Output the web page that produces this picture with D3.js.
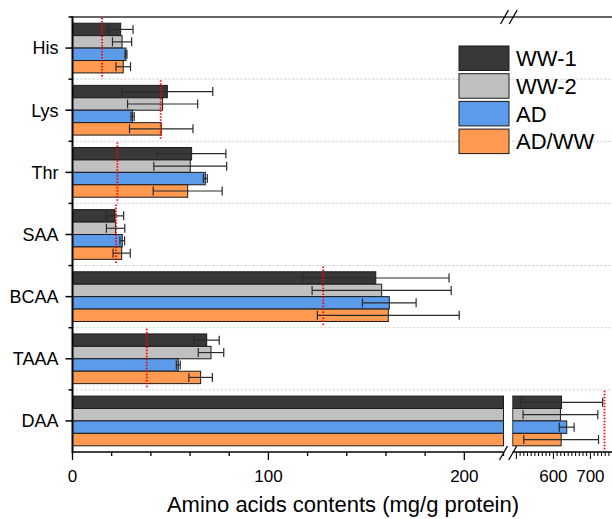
<!DOCTYPE html>
<html>
<head>
<meta charset="utf-8">
<script src="https://cdn.jsdelivr.net/npm/d3@7"></script>
<style>
  body { margin: 0; background: #fff; }
  text { font-family: "Liberation Sans", Arial, sans-serif; fill: #000; }
</style>
</head>
<body>
<svg width="612" height="519"></svg>
<script>
const categories = ["His", "Lys", "Thr", "SAA", "BCAA", "TAAA", "DAA"];
const seriesNames = ["WW-1", "WW-2", "AD", "AD/WW"];
const colors = ["#383838", "#c0c0c0", "#5b9bea", "#ff9a50"];

// mean values per series, in category order
const ww1 = [24.6, 48.4, 60.8, 21.7, 154.8, 68.5, 622];
const ww2 = [25.3, 46.0, 60.1, 22.0, 157.8, 70.7, 619];
const ad = [27.3, 30.7, 67.8, 25.4, 161.7, 54.0, 636];
const adww = [25.9, 45.3, 58.8, 25.1, 161.2, 65.4, 621];

// error (± sd)
const ww1Err = [6.3, 23.2, 17.5, 4.4, 37.4, 6.4, 111];
const ww2Err = [4.9, 17.9, 18.6, 4.7, 35.5, 6.5, 101];
const adErr = [0.5, 0.8, 1.0, 1.2, 13.7, 1.0, 20];
const adwwErr = [3.7, 16.2, 17.6, 4.4, 36.2, 6.0, 101];

// requirement reference lines (red dotted)
const refValues = [15.1, 45.0, 22.9, 22.2, 128.0, 37.9, 738];

const leftTicks = [0, 100, 200];
const rightTicks = [600, 700];

const svg = d3.select("svg");
const width = +svg.attr("width");
const height = +svg.attr("height");

const margin = { top: 17, left: 72.5, bottom: 452 };
const breakLeft = 503.5;
const breakRight = 512.7;

const xLeft = d3.scaleLinear().domain([0, 220]).range([margin.left, breakLeft]);
const xRight = d3.scaleLinear().domain([490, 760]).range([breakRight, 612.6]);
const xPos = (v) => (v <= 220 ? xLeft(v) : xRight(Math.max(v, 490)));

const yScale = d3
  .scaleBand()
  .domain(categories)
  .range([margin.top, margin.bottom])
  .paddingInner(0.2)
  .paddingOuter(0.1);
const step = yScale.step();

const ySub = d3
  .scaleBand()
  .domain(seriesNames)
  .range([0, yScale.bandwidth()]);

const values = [ww1, ww2, ad, adww];
const errors = [ww1Err, ww2Err, adErr, adwwErr];

const data = [];
categories.forEach((c, i) => {
  seriesNames.forEach((s, j) => {
    data.push({ cat: c, series: s, value: values[j][i], err: errors[j][i], color: colors[j] });
  });
});

// separators between categories
const sepY = d3.range(1, categories.length).map((k) => margin.top + k * step);
svg
  .append("g")
  .selectAll("line")
  .data(sepY)
  .join("line")
  .attr("x1", margin.left)
  .attr("x2", width)
  .attr("y1", (d) => d)
  .attr("y2", (d) => d)
  .attr("stroke", "#c8c8c8")
  .attr("stroke-width", 1)
  .attr("stroke-dasharray", "2,2");

// bars
const barG = svg.append("g");
data.forEach((d) => {
  const y = yScale(d.cat) + ySub(d.series);
  const h = ySub.bandwidth();
  if (d.value <= 220) {
    barG
      .append("rect")
      .attr("x", xLeft(0))
      .attr("y", y)
      .attr("width", xLeft(d.value) - xLeft(0))
      .attr("height", h)
      .attr("fill", d.color)
      .attr("stroke", "#1a1a1a")
      .attr("stroke-width", 1);
  } else {
    barG
      .append("rect")
      .attr("x", xLeft(0))
      .attr("y", y)
      .attr("width", xLeft(220) - xLeft(0))
      .attr("height", h)
      .attr("fill", d.color)
      .attr("stroke", "#1a1a1a")
      .attr("stroke-width", 1);
    barG
      .append("rect")
      .attr("x", xRight(490))
      .attr("y", y)
      .attr("width", xRight(d.value) - xRight(490))
      .attr("height", h)
      .attr("fill", d.color)
      .attr("stroke", "#1a1a1a")
      .attr("stroke-width", 1);
  }
});

// white gap for the break through the DAA bars
svg
  .append("rect")
  .attr("x", breakLeft + 0.5)
  .attr("y", yScale("DAA"))
  .attr("width", breakRight - breakLeft - 1)
  .attr("height", yScale.bandwidth())
  .attr("fill", "#fff");

// error bars
const errG = svg.append("g").attr("stroke", "#2a2a2a").attr("stroke-width", 1.2);
data.forEach((d) => {
  const cy = yScale(d.cat) + ySub(d.series) + ySub.bandwidth() / 2;
  const x1 = xPos(d.value - d.err);
  const x2 = xPos(d.value + d.err);
  errG.append("line").attr("x1", x1).attr("x2", x2).attr("y1", cy).attr("y2", cy);
  [x1, x2].forEach((x) => {
    errG.append("line").attr("x1", x).attr("x2", x).attr("y1", cy - 4.5).attr("y2", cy + 4.5);
  });
});

// reference lines
svg
  .append("g")
  .selectAll("line")
  .data(categories)
  .join("line")
  .attr("x1", (d, i) => xPos(refValues[i]))
  .attr("x2", (d, i) => xPos(refValues[i]))
  .attr("y1", (d) => yScale(d) - step * 0.1 + 1)
  .attr("y2", (d) => yScale(d) + yScale.bandwidth() + step * 0.1 - 1)
  .attr("stroke", "#ff0000")
  .attr("stroke-width", 1.8)
  .attr("stroke-dasharray", "1.5,1.5");

// left axis
const yAxisG = svg.append("g").attr("transform", `translate(${margin.left},0)`);
yAxisG
  .append("line")
  .attr("y1", margin.top - 1)
  .attr("y2", margin.bottom + 1)
  .attr("stroke", "#000")
  .attr("stroke-width", 2);
yAxisG
  .selectAll(".minor")
  .data(d3.range(0, categories.length).map((k) => margin.top + k * step))
  .join("line")
  .attr("class", "minor")
  .attr("x1", -4)
  .attr("x2", 0)
  .attr("y1", (d) => d)
  .attr("y2", (d) => d)
  .attr("stroke", "#000")
  .attr("stroke-width", 1.5);
yAxisG
  .selectAll(".major")
  .data(categories)
  .join("line")
  .attr("class", "major")
  .attr("x1", -7)
  .attr("x2", 0)
  .attr("y1", (d) => yScale(d) + yScale.bandwidth() / 2)
  .attr("y2", (d) => yScale(d) + yScale.bandwidth() / 2)
  .attr("stroke", "#000")
  .attr("stroke-width", 1.5);
yAxisG
  .selectAll("text")
  .data(categories)
  .join("text")
  .attr("x", -14)
  .attr("y", (d) => yScale(d) + yScale.bandwidth() / 2)
  .attr("dy", "0.35em")
  .attr("text-anchor", "end")
  .attr("font-size", 18)
  .text((d) => d);

// top frame line
svg
  .append("line")
  .attr("x1", margin.left)
  .attr("x2", width)
  .attr("y1", margin.top)
  .attr("y2", margin.top)
  .attr("stroke", "#333")
  .attr("stroke-width", 1.5);

// bottom axes
const axisY = margin.bottom;
const xAxisG = svg.append("g").attr("transform", `translate(0,${axisY})`);
xAxisG.append("line").attr("x1", margin.left).attr("x2", breakLeft).attr("stroke", "#000").attr("stroke-width", 1.5);
xAxisG.append("line").attr("x1", breakRight).attr("x2", width).attr("stroke", "#000").attr("stroke-width", 1.5);

xAxisG
  .selectAll(".lt")
  .data(d3.range(0, 221, 20))
  .join("line")
  .attr("class", "lt")
  .attr("x1", (d) => xLeft(d))
  .attr("x2", (d) => xLeft(d))
  .attr("y1", 0)
  .attr("y2", (d) => (leftTicks.includes(d) ? 8 : 4))
  .attr("stroke", "#000")
  .attr("stroke-width", 1.3);
xAxisG
  .selectAll(".rt")
  .data(d3.range(500, 761, 10))
  .join("line")
  .attr("class", "rt")
  .attr("x1", (d) => xRight(d))
  .attr("x2", (d) => xRight(d))
  .attr("y1", 0)
  .attr("y2", (d) => (d % 100 === 0 ? 7 : 4))
  .attr("stroke", "#000")
  .attr("stroke-width", 1);

xAxisG
  .selectAll(".ll")
  .data(leftTicks)
  .join("text")
  .attr("class", "ll")
  .attr("x", (d) => xLeft(d))
  .attr("y", 30)
  .attr("text-anchor", "middle")
  .attr("font-size", 17)
  .text((d) => d);
xAxisG
  .selectAll(".rl")
  .data(rightTicks)
  .join("text")
  .attr("class", "rl")
  .attr("x", (d) => xRight(d))
  .attr("y", 30)
  .attr("text-anchor", "middle")
  .attr("font-size", 17)
  .text((d) => d);

// break marks
const breakMark = (g, x, y) => {
  g.append("line")
    .attr("x1", x - 4)
    .attr("x2", x + 4)
    .attr("y1", y + 7)
    .attr("y2", y - 7)
    .attr("stroke", "#000")
    .attr("stroke-width", 1.3);
};
const brG = svg.append("g");
breakMark(brG, breakLeft, axisY + 1);
breakMark(brG, breakRight, axisY + 1);
breakMark(brG, breakLeft + 1, margin.top);
breakMark(brG, breakRight + 0.5, margin.top);

// axis title
svg
  .append("text")
  .attr("x", 343)
  .attr("y", 512)
  .attr("text-anchor", "middle")
  .attr("font-size", 22)
  .text("Amino acids contents (mg/g protein)");

// legend
const legend = svg.append("g").attr("transform", "translate(459,46)");
seriesNames.forEach((s, i) => {
  const row = legend.append("g").attr("transform", `translate(0,${i * 27.7})`);
  row
    .append("rect")
    .attr("width", 50)
    .attr("height", 24.5)
    .attr("fill", colors[i])
    .attr("stroke", "#1a1a1a")
    .attr("stroke-width", 1);
  row
    .append("text")
    .attr("x", 57)
    .attr("y", 12.5)
    .attr("dy", "0.35em")
    .attr("font-size", 22)
    .text(s);
});
</script>
</body>
</html>
